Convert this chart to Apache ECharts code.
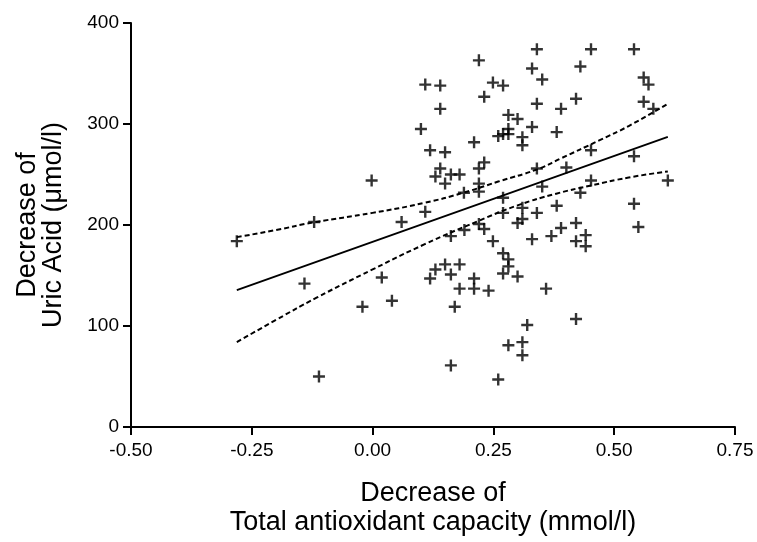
<!DOCTYPE html>
<html>
<head>
<meta charset="utf-8">
<script src="https://cdn.jsdelivr.net/npm/echarts@6/dist/echarts.min.js"></script>
<style>
  html, body { margin: 0; padding: 0; background: #fff; }
  #chart { width: 757px; height: 542px; }
</style>
</head>
<body>
<div id="chart"></div>
<script>
// decrease of total antioxidant capacity (x) vs decrease of uric acid (y)
const tacDecrease = [
  -0.281, -0.121, -0.141, -0.111, -0.002, -0.021, 0.019, 0.040, 0.060, 0.109,
  0.140, 0.140, 0.100, 0.119, 0.150, 0.140, 0.130, 0.150, 0.162, 0.180,
  0.109, 0.189, 0.220, 0.249, 0.270, 0.231, 0.210, 0.220, 0.231, 0.220,
  0.220, 0.220, 0.231, 0.190, 0.162, 0.249, 0.270, 0.270, 0.270, 0.281,
  0.281, 0.270, 0.300, 0.240, 0.210, 0.210, 0.180, 0.180, 0.150, 0.130,
  0.119, 0.162, 0.170, 0.162, 0.260, 0.281, 0.310, 0.310, 0.320, 0.330,
  0.340, 0.351, 0.340, 0.281, 0.300, 0.330, 0.260, 0.270, 0.281, 0.281,
  0.310, 0.310, 0.340, 0.351, 0.310, 0.310, 0.300, 0.340, 0.330, 0.370,
  0.359, 0.381, 0.390, 0.421, 0.430, 0.452, 0.401, 0.452, 0.452, 0.430,
  0.381, 0.390, 0.421, 0.421, 0.441, 0.441, 0.421, 0.541, 0.561, 0.571,
  0.561, 0.581, 0.541, 0.611, 0.541, 0.550
];
const uaDecrease = [
  184, 203, 142, 50, 244, 119, 148, 125, 203, 339,
  338, 315, 295, 274, 272, 256, 248, 241, 250, 250,
  213, 232, 363, 341, 338, 327, 282, 256, 262, 241,
  233, 201, 196, 195, 189, 184, 227, 212, 172, 166,
  159, 152, 149, 135, 147, 137, 137, 161, 161, 156,
  147, 151, 119, 61, 47, 81, 84, 71, 101, 355,
  374, 344, 320, 309, 305, 297, 288, 290, 295, 290,
  287, 279, 256, 238, 217, 206, 202, 212, 186, 189,
  137, 292, 315, 325, 357, 374, 257, 274, 244, 232,
  219, 197, 202, 184, 190, 179, 107, 374, 346, 339,
  322, 315, 268, 244, 221, 198
];

// regression line
const fitX = [-0.281, 0.611];
const fitY = [135.5, 287.3];

// 95% confidence band
const upperX = [-0.281, -0.2, -0.123, 0.0, 0.108, 0.188, 0.26, 0.34, 0.39, 0.47, 0.53, 0.611];
const upperY = [188, 195, 202.5, 212, 222, 232, 243, 255, 266, 284, 298, 320];
const lowerX = [-0.281, -0.2, -0.116, 0.0, 0.108, 0.219, 0.3, 0.38, 0.45, 0.53, 0.611];
const lowerY = [84, 106, 128, 156, 181, 204, 219.4, 231, 238.9, 247, 253];

const xTicks = { min: -0.5, max: 0.75, interval: 0.25 };
const yTicks = { min: 0, max: 400, interval: 100 };

const font = "'Liberation Sans', Arial, sans-serif";
const plus = 'path://M4,0H6V4H10V6H6V10H4V6H0V4H4Z';

function zip(xs, ys) {
  return xs.map((x, i) => [x, ys[i]]);
}

const chart = echarts.init(document.getElementById('chart'), null, { renderer: 'canvas' });

const axisCommon = {
  type: 'value',
  nameLocation: 'middle',
  nameTextStyle: { color: '#000', fontFamily: font, fontSize: 27, lineHeight: 29 },
  axisLine: { show: true, onZero: false, lineStyle: { color: '#000', width: 2 } },
  axisTick: { show: true, length: 8, lineStyle: { color: '#000', width: 2 } },
  axisLabel: { color: '#000', fontFamily: font, fontSize: 19 },
  splitLine: { show: false }
};

chart.setOption({
  animation: false,
  backgroundColor: '#fff',
  grid: { left: 131, right: 22, top: 23, bottom: 114 },
  xAxis: Object.assign({}, axisCommon, {
    min: xTicks.min, max: xTicks.max, interval: xTicks.interval,
    name: 'Decrease of\nTotal antioxidant capacity (mmol/l)',
    nameGap: 52,
    axisLabel: Object.assign({}, axisCommon.axisLabel, {
      margin: 14,
      formatter: v => v.toFixed(2)
    })
  }),
  yAxis: Object.assign({}, axisCommon, {
    min: yTicks.min, max: yTicks.max, interval: yTicks.interval,
    name: 'Decrease of\nUric Acid (\u03bcmol/l)',
    nameGap: 64,
    nameTextStyle: Object.assign({}, axisCommon.nameTextStyle, { lineHeight: 26 }),
    axisLabel: Object.assign({}, axisCommon.axisLabel, { margin: 12 })
  }),
  series: [
    {
      type: 'line',
      data: zip(upperX, upperY),
      smooth: true,
      symbol: 'none',
      lineStyle: { color: '#000', width: 2, type: [5, 3] }
    },
    {
      type: 'line',
      data: zip(lowerX, lowerY),
      smooth: true,
      symbol: 'none',
      lineStyle: { color: '#000', width: 2, type: [5, 3] }
    },
    {
      type: 'line',
      data: zip(fitX, fitY),
      symbol: 'none',
      lineStyle: { color: '#000', width: 2 }
    },
    {
      type: 'scatter',
      data: zip(tacDecrease, uaDecrease),
      symbol: plus,
      symbolSize: 12,
      itemStyle: { color: '#000' },
      z: 5
    }
  ]
});
</script>
</body>
</html>
